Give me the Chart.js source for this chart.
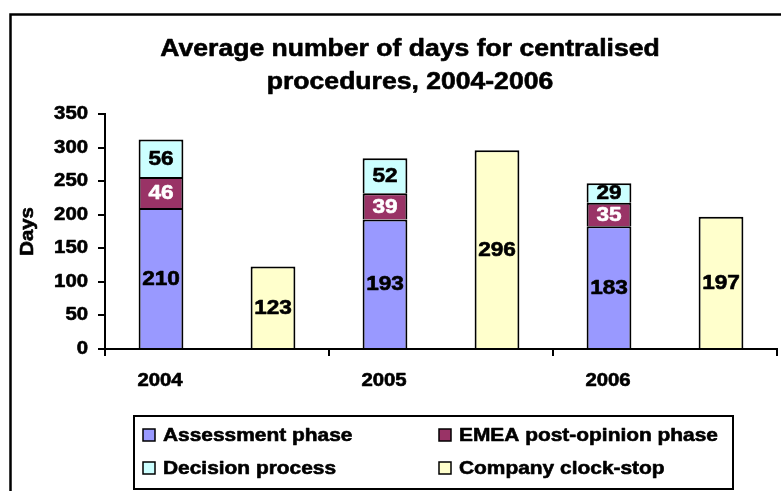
<!DOCTYPE html>
<html><head><meta charset="utf-8">
<script src="https://cdn.jsdelivr.net/npm/chart.js@4/dist/chart.umd.min.js"></script>
<style>html,body{margin:0;padding:0;background:#fff;overflow:hidden}#wrap{width:781px;height:491px;position:relative}</style>
</head><body><div id="wrap"><canvas id="c" width="781" height="491"></canvas></div>
<script>
const categories = ['2004', '2005', '2006'];
const assessmentPhase = [210, 193, 183];
const emeaPostOpinion = [46, 39, 35];
const decisionProcess = [56, 52, 29];
const companyClockStop = [123, 296, 197];
const yTickMin = 0, yTickMax = 350, yTickStep = 50;
const titleLines = ['Average number of days for centralised', 'procedures, 2004-2006'];
const yAxisTitle = 'Days';

const FONT = '"Liberation Sans", Arial, sans-serif';
const SX = 1.13; // horizontal stretch of the original's text
const canvas = document.getElementById('c');
const ctx = canvas.getContext('2d');
const rawFill = ctx.fillText.bind(ctx);
const rawStroke = ctx.strokeText.bind(ctx);
ctx.fillText = function (t, x, y) {
  this.save();
  this.translate(x, y); this.scale(SX, 1);
  rawFill(t, 0, 0);
  this.strokeStyle = this.fillStyle; this.lineWidth = 0.6; this.lineJoin = 'round';
  rawStroke(t, 0, 0);
  this.restore();
};

Chart.defaults.font.family = FONT;
Chart.defaults.font.weight = 'bold';
Chart.defaults.color = '#000';

const decor = {
  id: 'decor',
  afterDatasetsDraw(chart) {
    const c = chart.ctx;
    c.save();
    c.font = 'bold 20px ' + FONT;
    c.textAlign = 'center';
    c.textBaseline = 'middle';
    chart.data.datasets.forEach((ds, i) => {
      const meta = chart.getDatasetMeta(i);
      meta.data.forEach((el, j) => {
        c.fillStyle = ds.labelColor;
        c.fillText(String(ds.data[j]), el.x, (el.y + el.base) / 2 + 1);
      });
    });
    c.restore();
  },
  afterDraw(chart) {
    const c = chart.ctx;
    c.save();
    c.strokeStyle = '#000';
    c.lineWidth = 2.5;
    c.beginPath();
    c.moveTo(10.5, 500); c.lineTo(10.5, 14.5); c.lineTo(800, 14.5);
    c.stroke();
    c.fillStyle = '#000';
    c.font = 'bold 23.5px ' + FONT;
    c.textAlign = 'center';
    c.textBaseline = 'alphabetic';
    c.fillText(titleLines[0], 410, 56);
    c.fillText(titleLines[1], 410, 89);
    c.lineWidth = 2;
    c.strokeStyle = '#000';
    c.strokeRect(134, 416, 599, 73);
    const pos = [[143, 435], [439, 435], [143, 468], [439, 468]];
    c.font = 'bold 18.5px ' + FONT;
    c.textAlign = 'left';
    c.textBaseline = 'middle';
    chart.data.datasets.forEach((ds, i) => {
      const [x, y] = pos[i];
      c.fillStyle = ds.backgroundColor;
      c.fillRect(x, y - 6, 12, 12);
      c.lineWidth = 1.5;
      c.strokeStyle = '#000';
      c.strokeRect(x, y - 6, 12, 12);
      c.fillStyle = '#000';
      c.fillText(ds.label, x + 20, y + 1);
    });
    c.restore();
  }
};

new Chart(canvas, {
  type: 'bar',
  data: {
    labels: categories,
    datasets: [
      { label: 'Assessment phase', data: assessmentPhase, stack: 'a', backgroundColor: '#9999FF', labelColor: '#000' },
      { label: 'EMEA post-opinion phase', data: emeaPostOpinion, stack: 'a', backgroundColor: '#993366', labelColor: '#fff' },
      { label: 'Decision process', data: decisionProcess, stack: 'a', backgroundColor: '#CCFFFF', labelColor: '#000' },
      { label: 'Company clock-stop', data: companyClockStop, stack: 'b', backgroundColor: '#FFFFCC', labelColor: '#000' }
    ].map(d => Object.assign(d, { borderColor: '#000', borderWidth: 2, borderSkipped: 'start', categoryPercentage: 1.0, barPercentage: 0.4 }))
  },
  options: {
    responsive: false,
    animation: false,
    devicePixelRatio: 1,
    layout: { padding: { left: 0, right: 4, top: 114, bottom: 82 } },
    plugins: { legend: { display: false }, title: { display: false }, tooltip: { enabled: false } },
    scales: {
      x: {
        stacked: true,
        grid: { drawOnChartArea: false, drawTicks: true, tickLength: 7, color: '#000', lineWidth: 2, offset: true },
        border: { display: true, color: '#000', width: 2 },
        ticks: { font: { size: 18, weight: 'bold' }, color: '#000', labelOffset: -57, padding: 14, maxRotation: 0 },
        afterFit(s) { s.height = 60; }
      },
      y: {
        stacked: true,
        min: yTickMin, max: yTickMax,
        grid: { drawOnChartArea: false, drawTicks: true, tickLength: 7, color: '#000', lineWidth: 2 },
        border: { display: true, color: '#000', width: 2 },
        ticks: { stepSize: yTickStep, font: { size: 18, weight: 'bold' }, color: '#000', padding: 10 },
        title: { display: true, text: yAxisTitle, font: { size: 18, weight: 'bold' }, color: '#000', padding: { top: 17, bottom: 0 } },
        afterFit(s) { s.width = 105; }
      }
    }
  },
  plugins: [decor]
});
</script></body></html>
